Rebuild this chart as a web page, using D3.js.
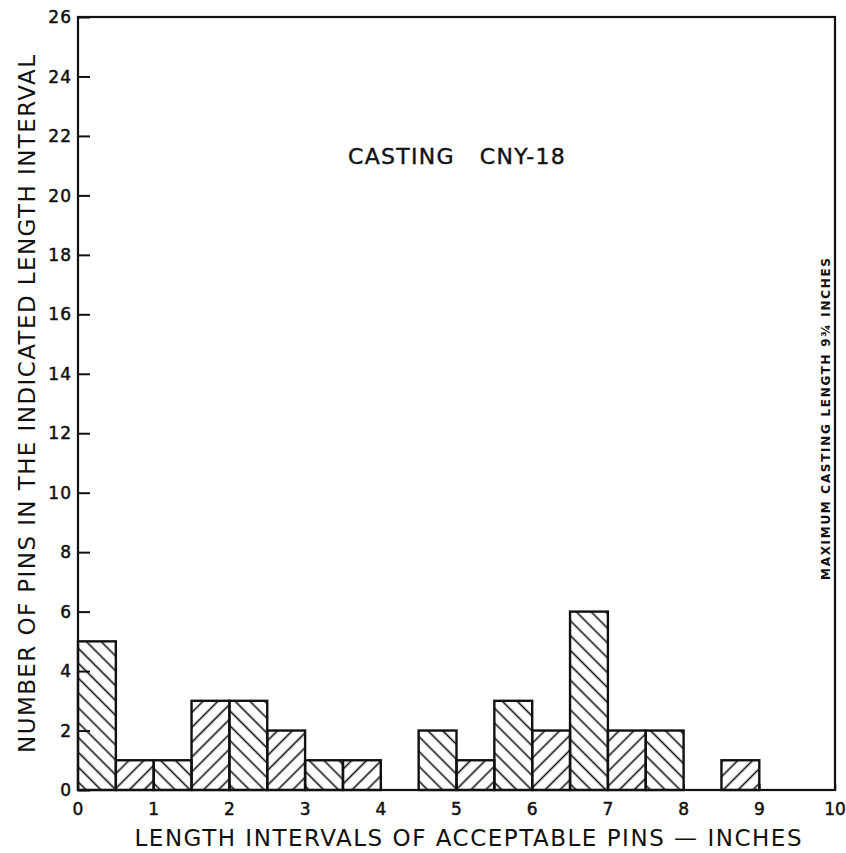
<!DOCTYPE html>
<html>
<head>
<meta charset="utf-8">
<script src="https://cdn.jsdelivr.net/npm/d3@7"></script>
<style>
  body { margin: 0; background: #fff; }
  text { font-family: "DejaVu Sans", sans-serif; fill: #111; }
</style>
</head>
<body>
<svg id="chart" width="846" height="853"></svg>
<script>
// half-inch length intervals (start of each bin) and pin counts
const binStarts = [0, 0.5, 1, 1.5, 2, 2.5, 3, 3.5, 4, 4.5, 5, 5.5, 6, 6.5, 7, 7.5, 8, 8.5];
const counts    = [5, 1, 1, 3, 3, 2, 1, 1, 0, 2, 1, 3, 2, 6, 2, 2, 0, 1];
const xTicks = [0, 1, 2, 3, 4, 5, 6, 7, 8, 9, 10];
const yTicks = [0, 2, 4, 6, 8, 10, 12, 14, 16, 18, 20, 22, 24, 26];

const binWidth = 0.5;
const margin = { top: 17, right: 11, bottom: 63, left: 78 };
const width = 846 - margin.left - margin.right;
const height = 853 - margin.top - margin.bottom;

const svg = d3.select("#chart");

// hatch patterns: vertical lines, rotated either way
const defs = svg.append("defs");
const gap = 10.5;
function hatch(id, angle) {
    let p = defs.append("pattern")
        .attr("id", id)
        .attr("patternUnits", "userSpaceOnUse")
        .attr("width", gap)
        .attr("height", gap)
        .attr("patternTransform", `rotate(${angle})`);
    p.append("line")
        .attr("x1", gap / 2).attr("y1", 0)
        .attr("x2", gap / 2).attr("y2", gap)
        .attr("stroke", "#111")
        .attr("stroke-width", 1.6);
}
hatch("hatchBack", -45);  // "\"
hatch("hatchFwd", 45);    // "/"

const g = svg.append("g")
    .attr("transform", `translate(${margin.left},${margin.top})`);

const x = d3.scaleLinear().domain([0, 10]).range([0, width]);
const y = d3.scaleLinear().domain([0, 26]).range([height, 0]);

// bars, hatch alternates from one drawn bar to the next
let bars = binStarts.map((b, i) => ({ start: b, count: counts[i] })).filter(d => d.count > 0);

g.append("g")
    .selectAll("rect")
    .data(bars)
    .enter()
    .append("rect")
        .attr("x", d => x(d.start))
        .attr("y", d => y(d.count))
        .attr("width", d => x(d.start + binWidth) - x(d.start))
        .attr("height", d => y(0) - y(d.count))
        .attr("fill", (d, i) => i % 2 === 0 ? "url(#hatchBack)" : "url(#hatchFwd)")
        .attr("stroke", "#111")
        .attr("stroke-width", 2.4);

// y axis with inward ticks
let yAxis = g.append("g")
    .call(d3.axisRight(y).tickValues(yTicks).tickSize(12).tickFormat(""));
yAxis.select(".domain").remove();
yAxis.selectAll("line").attr("stroke", "#111").attr("stroke-width", 2);

g.append("g")
    .selectAll("text")
    .data(yTicks)
    .enter()
    .append("text")
        .attr("x", -6)
        .attr("y", d => y(d))
        .attr("dy", "0.36em")
        .attr("text-anchor", "end")
        .style("font-size", "17px")
        .style("letter-spacing", "1px")
        .style("stroke", "#111")
        .style("stroke-width", "0.5px")
        .text(d => d);

// x axis, small inward ticks
let xAxis = g.append("g")
    .attr("transform", `translate(0,${height})`)
    .call(d3.axisTop(x).tickValues(xTicks).tickSize(6).tickFormat(""));
xAxis.select(".domain").remove();
xAxis.selectAll("line").attr("stroke", "#111").attr("stroke-width", 1.5);

g.append("g")
    .selectAll("text")
    .data(xTicks)
    .enter()
    .append("text")
        .attr("x", d => x(d))
        .attr("y", height + 25)
        .attr("text-anchor", "middle")
        .style("font-size", "17px")
        .style("stroke", "#111")
        .style("stroke-width", "0.5px")
        .text(d => d);

// frame
g.append("rect")
    .attr("width", width)
    .attr("height", height)
    .attr("fill", "none")
    .attr("stroke", "#111")
    .attr("stroke-width", 2.2);

// titles
svg.append("text")
    .attr("x", 348)
    .attr("y", 164)
    .style("font-size", "22px")
    .style("letter-spacing", "1.3px")
    .style("white-space", "pre")
    .style("stroke", "#111")
    .style("stroke-width", "0.4px")
    .text("CASTING   CNY-18");

svg.append("text")
    .attr("x", 468)
    .attr("y", 846)
    .attr("text-anchor", "middle")
    .style("font-size", "23px")
    .attr("textLength", 667)
    .text("LENGTH INTERVALS OF ACCEPTABLE PINS — INCHES");

svg.append("text")
    .attr("transform", "translate(35,404) rotate(-90)")
    .attr("text-anchor", "middle")
    .style("font-size", "23px")
    .attr("textLength", 698)
    .text("NUMBER OF PINS IN THE INDICATED LENGTH INTERVAL");

svg.append("text")
    .attr("transform", "translate(830,419) rotate(-90)")
    .attr("text-anchor", "middle")
    .style("font-size", "12px")
    .style("font-weight", "bold")
    .attr("textLength", 322)
    .text("MAXIMUM   CASTING   LENGTH   9¾ INCHES");
</script>
</body>
</html>
